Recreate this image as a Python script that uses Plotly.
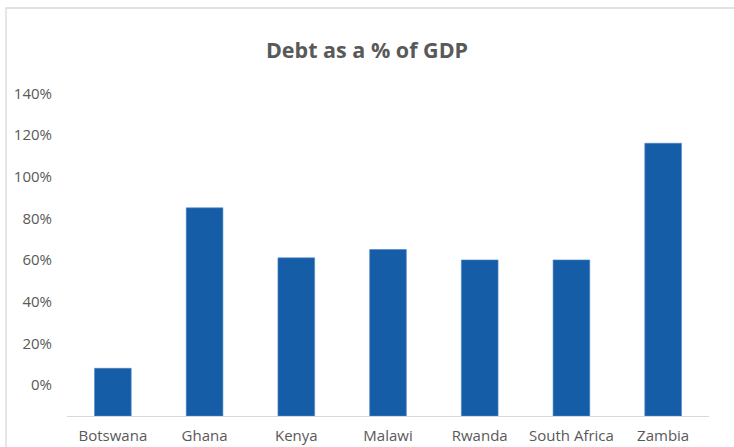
import plotly.graph_objects as go

countries = ["Botswana", "Ghana", "Kenya", "Malawi", "Rwanda", "South Africa", "Zambia"]
debt_pct = [8, 85, 61, 65, 60, 60, 116]
y_ticks = [0, 20, 40, 60, 80, 100, 120, 140]
y_tick_labels = ["0%", "20%", "40%", "60%", "80%", "100%", "120%", "140%"]

axis_min = -14.9
axis_max = 150.2

W, H = 734, 447
ml, mr, mt, mb = 67, 25, 72, 31
pw, ph = W - ml - mr, H - mt - mb

fig = go.Figure(go.Bar(
    x=countries,
    y=[v - axis_min for v in debt_pct],
    base=axis_min,
    marker=dict(color="#165DA8", line=dict(color="#4a86c8", width=0.6)),
    hoverinfo="skip",
))

grey = "#595959"
font_family = "Open Sans, Liberation Sans, sans-serif"

fig.update_layout(
    width=W, height=H,
    margin=dict(l=ml, r=mr, t=mt, b=mb, autoexpand=False),
    paper_bgcolor="white", plot_bgcolor="white",
    bargap=0.6,
    showlegend=False,
    title=dict(text="<b>Debt as a % of GDP</b>", xref="paper", xanchor="center",
               x=(367 - ml) / pw,
               y=1 - 50 / H, yanchor="middle",
               font=dict(family=font_family, size=21.5, color=grey)),
    font=dict(family=font_family, size=15, color=grey),
)

fig.update_xaxes(
    showline=True, linecolor="#d9d9d9", linewidth=1.3,
    showgrid=False, zeroline=False, ticks="",
    tickfont=dict(size=15, color=grey),
    ticklabelstandoff=6,
    automargin=False,
)
fig.update_yaxes(
    range=[axis_min, axis_max],
    tickvals=y_ticks, ticktext=y_tick_labels,
    showgrid=False, zeroline=False, showline=False, ticks="",
    tickfont=dict(size=15, color=grey),
    ticklabelstandoff=14,
    automargin=False,
)

# chart-area border
fig.add_shape(type="rect", xref="paper", yref="paper",
              x0=(6 - ml) / pw, x1=(745 - ml) / pw,
              y0=(H - mb - 460) / ph, y1=(H - mb - 8) / ph,
              line=dict(color="#d9d9d9", width=1.3), fillcolor="rgba(0,0,0,0)", layer="below")

fig.write_html("out.html")
